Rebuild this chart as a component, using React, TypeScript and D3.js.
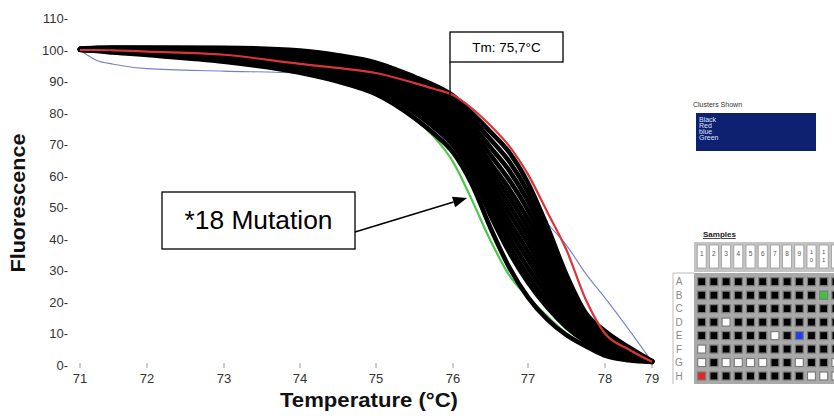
import React from "react";
import * as d3 from "d3";

// Melt temperatures shared by every sample curve (°C)
const temps = [71, 71.25, 71.5, 72, 73, 74, 74.5, 75, 75.5, 75.75, 76, 76.25, 76.5, 76.75, 77, 77.25, 77.5, 77.75, 78, 78.5, 79];

// Black cluster: normalised fluorescence of the wild-type samples
const blackCluster = [
  [100, 99.7, 99.2, 98.4, 96.3, 92.8, 90.0, 86.0, 78.4, 73.5, 67.5, 57.5, 43.5, 31.0, 21.5, 14.5, 9.5, 6.0, 3.0, 1.5, 1.0],
  [100.1, 99.8, 99.4, 98.7, 96.9, 93.7, 91.1, 87.3, 80.1, 75.5, 69.8, 60.4, 47.5, 35.8, 26.2, 18.3, 12.0, 7.4, 4.0, 2.1, 1.0],
  [100.1, 99.9, 99.5, 98.9, 97.1, 94.1, 91.6, 87.9, 80.9, 76.4, 70.9, 61.8, 49.3, 37.9, 28.4, 20.1, 13.1, 8.0, 4.5, 2.3, 1.0],
  [100.1, 100.0, 99.6, 99.0, 97.4, 94.6, 92.2, 88.6, 81.8, 77.5, 72.2, 63.4, 51.4, 40.5, 30.9, 22.2, 14.5, 8.7, 5.0, 2.6, 1.0],
  [100.1, 100.0, 99.7, 99.2, 97.8, 95.1, 92.7, 89.3, 82.7, 78.6, 73.4, 64.9, 53.6, 43.1, 33.5, 24.2, 15.8, 9.5, 5.6, 2.9, 1.1],
  [100.2, 100.1, 99.8, 99.4, 98.1, 95.6, 93.3, 90.0, 83.6, 79.7, 74.7, 66.5, 55.7, 45.6, 36.0, 26.3, 17.1, 10.2, 6.1, 3.2, 1.1],
  [100.2, 100.2, 100.0, 99.5, 98.4, 96.1, 93.9, 90.7, 84.6, 80.7, 76.0, 68.1, 57.8, 48.2, 38.6, 28.4, 18.5, 10.9, 6.7, 3.5, 1.1],
  [100.2, 100.2, 100.1, 99.7, 98.7, 96.6, 94.5, 91.4, 85.5, 81.8, 77.2, 69.7, 60.0, 50.7, 41.1, 30.4, 19.8, 11.7, 7.2, 3.8, 1.1],
  [100.2, 100.3, 100.2, 99.9, 99.0, 97.1, 95.1, 92.1, 86.4, 82.9, 78.5, 71.2, 62.1, 53.3, 43.6, 32.5, 21.2, 12.4, 7.8, 4.1, 1.1],
  [100.3, 100.4, 100.3, 100.0, 99.3, 97.6, 95.6, 92.8, 87.3, 84.0, 79.7, 72.8, 64.2, 55.8, 46.2, 34.6, 22.5, 13.1, 8.3, 4.4, 1.1],
  [100.3, 100.5, 100.4, 100.2, 99.6, 98.1, 96.3, 93.6, 88.4, 85.2, 81.2, 74.6, 66.7, 58.7, 49.1, 36.9, 24.0, 14.0, 8.9, 4.7, 1.2],
  [100.3, 100.5, 100.5, 100.4, 100.0, 98.7, 97.0, 94.4, 89.4, 86.4, 82.6, 76.4, 69.1, 61.7, 52.0, 39.3, 25.5, 14.8, 9.6, 5.0, 1.2],
  [100.4, 100.6, 100.7, 100.6, 100.4, 99.2, 97.6, 95.2, 90.5, 87.7, 84.1, 78.2, 71.6, 64.6, 54.9, 41.6, 27.1, 15.7, 10.2, 5.4, 1.2],
  [100.4, 100.7, 100.8, 100.8, 100.7, 99.8, 98.3, 96.0, 91.5, 88.9, 85.5, 80.0, 74.0, 67.5, 57.8, 44.0, 28.6, 16.5, 10.8, 5.7, 1.2],
];

// Single-sample clusters
const redSample = [100, 100, 99.9, 99.5, 98.5, 95.6, 94.3, 92.7, 89.5, 87.7, 85.7, 81.5, 76, 69.5, 60.5, 48.6, 36.5, 20.8, 10, 5, 1];
const blueSample = [100, 96.7, 95.5, 94.1, 93.3, 92.6, 90.3, 86.5, 80, 75, 69, 64.5, 60.5, 57, 53, 45, 38, 29, 21.3, 11.4, 1];
const greenSample = [100, 99.8, 99.6, 99.0, 97.0, 93.2, 90.2, 85.8, 78.2, 72.5, 64.5, 52.5, 39.5, 28.5, 21.5, 15.5, 10, 6.5, 4, 2, 0.8];

const xTicks = [71, 72, 73, 74, 75, 76, 77, 78, 79];
const yTicks = [0, 10, 20, 30, 40, 50, 60, 70, 80, 90, 100, 110];

const tmLabel = "Tm: 75,7°C";
const mutationLabel = "*18 Mutation";
const clusterNames = ["Black", "Red", "blue", "Green"];

const plateRows = ["A", "B", "C", "D", "E", "F", "G", "H"];
const plateCols = ["1", "2", "3", "4", "5", "6", "7", "8", "9", "10", "11", "12"];
// K black, W unassigned, R red, G green, B blue
const plateStates = [
  "KKKKKKKKKKKK",
  "KKKKKKKKKKGK",
  "KKKKKKKKKKKK",
  "KKWKKKKKKKKK",
  "KKKKKKWKBKKK",
  "WKKKKKKKKKKK",
  "WKWWWWKKWKKW",
  "RKKKKKKKKWWW",
];

const cellColor: Record<string, string> = {
  K: "#000000",
  W: "#ffffff",
  R: "#e32620",
  G: "#3ec43e",
  B: "#1b3ff0",
};

const FONT = "'Liberation Sans', Arial, Helvetica, sans-serif";
const WIDTH = 834;
const HEIGHT = 416;

export default function App() {
  const x = d3.scaleLinear().domain(xTicks).range([80, 147, 224, 300, 376, 453, 528, 605, 652]);
  const y = d3.scaleLinear().domain([0, 110]).range([365, 18.5]);

  const line = d3
    .line<number>()
    .x((_, i) => x(temps[i]))
    .y((d) => y(d))
    .curve(d3.curveMonotoneX);

  const colX = d3.scaleLinear().domain([0, 11]).range([701.7, 835.9]);
  const rowY = d3.scaleLinear().domain([0, 7]).range([281.7, 376]);

  // callout arrow geometry
  const a0 = { x: 355, y: 232 };
  const a1 = { x: 467, y: 198 };
  const ang = Math.atan2(a1.y - a0.y, a1.x - a0.x);
  const headLen = 14;
  const headW = 5.5;
  const hb = { x: a1.x - headLen * Math.cos(ang), y: a1.y - headLen * Math.sin(ang) };
  const head = [
    [a1.x, a1.y],
    [hb.x + headW * Math.sin(ang), hb.y - headW * Math.cos(ang)],
    [hb.x - headW * Math.sin(ang), hb.y + headW * Math.cos(ang)],
  ]
    .map((p) => p.join(","))
    .join(" ");

  return (
    <svg
      width={WIDTH}
      height={HEIGHT}
      style={{ position: "absolute", left: 0, top: 0, background: "#fff" }}
      fontFamily={FONT}
    >
      <rect x={0} y={0} width={WIDTH} height={HEIGHT} fill="#fff" />

      {/* y axis */}
      {yTicks.map((v) => (
        <text key={v} x={68} y={y(v) + 4.5} fontSize={13} fill="#333" textAnchor="end">
          {`${v}-`}
        </text>
      ))}
      <text
        transform="translate(25,203) rotate(-90)"
        fontSize={20}
        fontWeight="bold"
        textAnchor="middle"
        fill="#111"
        textLength={139}
        lengthAdjust="spacingAndGlyphs"
      >
        Fluorescence
      </text>

      {/* x axis */}
      {xTicks.map((v) => (
        <g key={v}>
          <line x1={x(v)} x2={x(v)} y1={363} y2={368} stroke="#999" strokeWidth={1} />
          <text x={x(v)} y={383} fontSize={13} fill="#333" textAnchor="middle">
            {v}
          </text>
        </g>
      ))}
      <text
        x={369}
        y={407}
        fontSize={20}
        fontWeight="bold"
        textAnchor="middle"
        fill="#111"
        textLength={178}
        lengthAdjust="spacingAndGlyphs"
      >
        Temperature (°C)
      </text>

      {/* melt curves */}
      <path d={line(greenSample) || ""} fill="none" stroke="#4cc64c" strokeWidth={2.2} />
      <path d={line(blueSample) || ""} fill="none" stroke="#7480cc" strokeWidth={1.1} />
      {blackCluster.map((s, i) => (
        <path key={i} d={line(s) || ""} fill="none" stroke="#000" strokeWidth={4.6} strokeLinecap="round" />
      ))}
      <path d={line(redSample) || ""} fill="none" stroke="#d8353a" strokeWidth={2.2} />

      {/* Tm callout */}
      <rect x={450} y={32} width={113} height={30} fill="#fff" stroke="#000" strokeWidth={1.3} />
      <text x={506.5} y={52} fontSize={13.5} textAnchor="middle" fill="#000">
        {tmLabel}
      </text>
      <line x1={450} x2={450} y1={62} y2={101} stroke="#000" strokeWidth={1.3} />

      {/* mutation callout */}
      <rect x={162} y={192} width={193} height={57} fill="#fff" stroke="#000" strokeWidth={1.3} />
      <text
        x={258.5}
        y={229}
        fontSize={25}
        textAnchor="middle"
        fill="#000"
        textLength={148}
        lengthAdjust="spacingAndGlyphs"
      >
        {mutationLabel}
      </text>
      <line x1={a0.x} y1={a0.y} x2={hb.x} y2={hb.y} stroke="#000" strokeWidth={1.6} />
      <polygon points={head} fill="#000" />

      {/* clusters list */}
      <text x={693} y={107} fontSize={7} fill="#333">
        Clusters Shown
      </text>
      <rect x={696} y={113} width={120} height={38} fill="#0d2170" />
      {clusterNames.map((n, i) => (
        <text key={n} x={699} y={121.5 + i * 6} fontSize={7} fill="#dfe4ff">
          {n}
        </text>
      ))}

      {/* sample plate */}
      <text x={703} y={237} fontSize={8} fontWeight="bold" fill="#222" textDecoration="underline">
        Samples
      </text>
      <rect x={694} y={242} width={142} height={30} fill="#c4c4c4" />
      {plateCols.map((c, i) => {
        const cx = colX(i);
        const visible = cx + 4 <= WIDTH;
        return (
          <g key={c}>
            <rect x={cx - 4.5} y={245} width={9} height={23} fill="#fff" stroke="#9a9a9a" strokeWidth={0.8} />
            {visible &&
              (c.length === 1 ? (
                <text x={cx} y={256} fontSize={6.5} fill="#555" textAnchor="middle">
                  {c}
                </text>
              ) : (
                <>
                  <text x={cx} y={254} fontSize={6} fill="#555" textAnchor="middle">
                    {c[0]}
                  </text>
                  <text x={cx} y={262} fontSize={6} fill="#555" textAnchor="middle">
                    {c[1]}
                  </text>
                </>
              ))}
          </g>
        );
      })}
      <rect x={694} y={273} width={142} height={111} fill="#a9a9a9" />
      <line x1={673} x2={673} y1={273} y2={384} stroke="#bbb" strokeWidth={1} />
      <line x1={673} x2={694} y1={273} y2={273} stroke="#bbb" strokeWidth={1} />
      {plateRows.map((r, ri) => (
        <g key={r}>
          <text x={679} y={rowY(ri) + 3.5} fontSize={10} fill="#888" textAnchor="middle">
            {r}
          </text>
          {plateStates[ri].split("").map((s, ci) => (
            <rect
              key={ci}
              x={colX(ci) - 4}
              y={rowY(ri) - 4}
              width={8}
              height={8}
              fill={cellColor[s]}
              stroke="#7c7c7c"
              strokeWidth={1.2}
            />
          ))}
        </g>
      ))}
    </svg>
  );
}
